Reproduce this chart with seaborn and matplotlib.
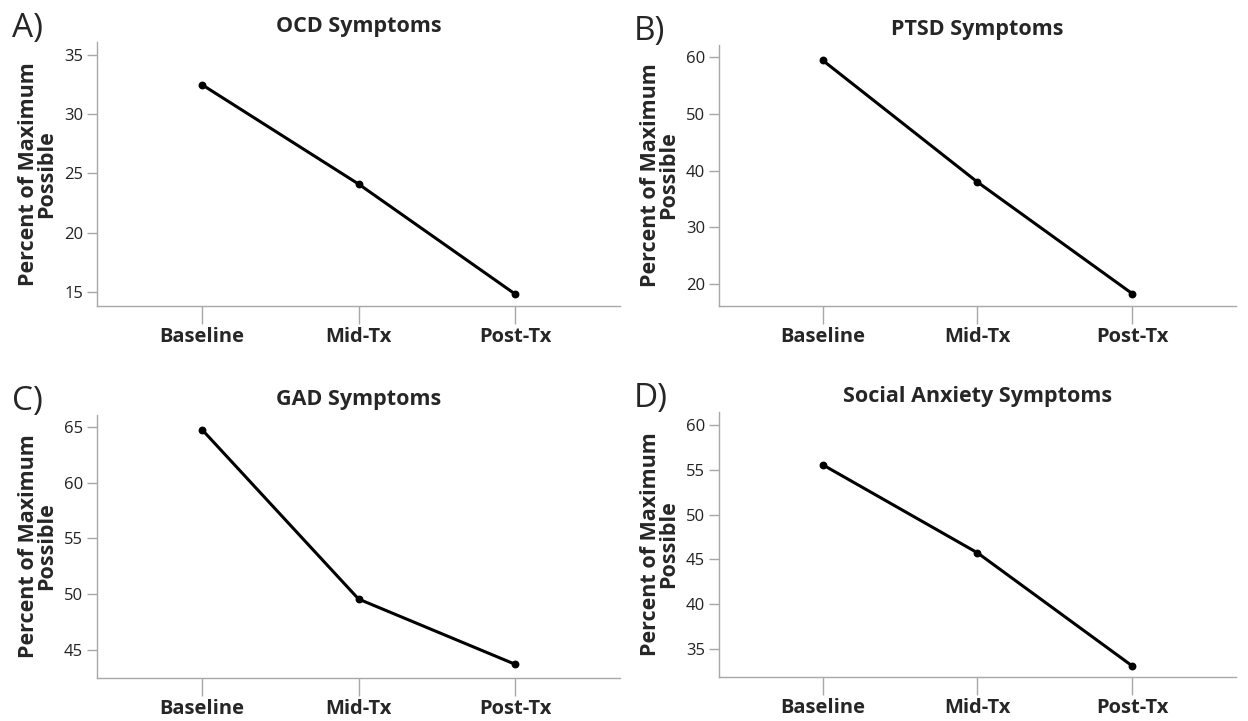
import matplotlib
matplotlib.use("Agg")
import matplotlib.pyplot as plt
import pandas as pd
import seaborn as sns

timepoints = ["Baseline", "Mid-Tx", "Post-Tx"]
panel_letters = ["A)", "B)", "C)", "D)"]
titles = ["OCD Symptoms", "PTSD Symptoms", "GAD Symptoms", "Social Anxiety Symptoms"]

ocd = [32.5, 24.1, 14.8]
ptsd = [59.5, 38.0, 18.3]
gad = [64.75, 49.55, 43.7]
social = [55.6, 45.75, 33.1]

yticks = [
    [15, 20, 25, 30, 35],
    [20, 30, 40, 50, 60],
    [45, 50, 55, 60, 65],
    [35, 40, 45, 50, 55, 60],
]
ylims = [(13.8, 36.1), (16.1, 62.2), (42.5, 66.05), (31.85, 61.5)]

sns.set_theme(style="white")
plt.rcParams["font.family"] = ["Open Sans", "DejaVu Sans"]

SPINE = "#a8a8a8"

fig = plt.figure(figsize=(12.48, 7.21), dpi=100)
# axes rectangles in figure fractions
rects = [
    (0.0777, 0.5756, 0.4193, 0.3661),
    (0.5761, 0.5756, 0.4141, 0.3620),
    (0.0777, 0.0600, 0.4193, 0.3644),
    (0.5761, 0.0610, 0.4141, 0.3676),
]
series = [ocd, ptsd, gad, social]

for i, vals in enumerate(series):
    ax = fig.add_axes(rects[i])
    df = pd.DataFrame({"time": timepoints, "value": vals})
    sns.pointplot(data=df, x="time", y="value", order=timepoints, color="black",
                  markersize=4, linewidth=2.2, errorbar=None, ax=ax)
    ax.set_xlim(-0.67, 2.67)
    ax.set_ylim(*ylims[i])
    ax.set_yticks(yticks[i])
    ax.set_xlabel("")
    ax.set_ylabel("Percent of Maximum\nPossible", fontsize=15.5, fontweight="bold",
                  linespacing=0.8, labelpad=5)
    ax.set_title(titles[i], fontsize=15.5, fontweight="bold", pad=7)
    for side in ["top", "right"]:
        ax.spines[side].set_visible(False)
    for side in ["left", "bottom"]:
        ax.spines[side].set_color(SPINE)
        ax.spines[side].set_linewidth(1.0)
    ax.tick_params(axis="y", left=True, length=7, width=1, color=SPINE,
                   labelsize=12, labelcolor="#222222", pad=3)
    ax.tick_params(axis="x", bottom=True, length=13, width=1, color=SPINE,
                   labelsize=14.5, pad=2)
    for lbl in ax.get_xticklabels():
        lbl.set_fontweight("bold")
    # panel letter
    x0 = rects[i][0] - 0.068
    y1 = rects[i][1] + rects[i][3] + 0.042
    fig.text(x0, y1, panel_letters[i], fontsize=24, fontweight="medium",
             ha="left", va="top")

fig.savefig("out.png", dpi=100)
